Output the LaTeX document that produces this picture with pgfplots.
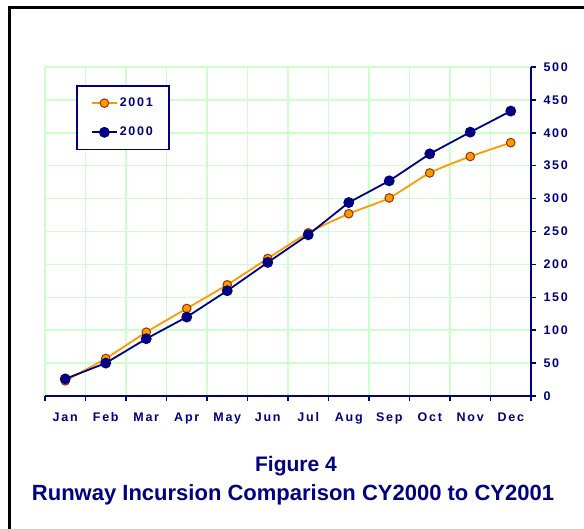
\documentclass[border=0pt]{standalone}
\usepackage{fontspec}
\setmainfont{Liberation Sans}
\newfontfamily\spaced{Liberation Sans}[LetterSpace=14]
\usepackage{pgfplots}
\pgfplotsset{compat=1.18}

\definecolor{navy}{RGB}{0,0,128}
\definecolor{orangeline}{RGB}{255,153,0}
\definecolor{brownedge}{RGB}{153,51,0}
\definecolor{gridgreen}{RGB}{204,255,204}

\begin{document}
\begin{tikzpicture}[x=1pt,y=1pt]
% origin = bottom-left corner of the plot area
\useasboundingbox (-45,-133) rectangle (539,396);
\begin{scope}
  \clip (-45,-133) rectangle (539,396);
  \draw[line width=2.5pt,black] (-35.5,-150) -- (-35.5,388.5) -- (560,388.5);
\end{scope}
\begin{axis}[
  scale only axis,width=486pt,height=329pt,
  xmin=0.5,xmax=12.5,ymin=0,ymax=500,
  axis x line*=bottom,axis y line*=right,
  axis line style={navy,line width=2pt,-},
  xtick={0.5,1.5,...,12.5},xticklabels={},
  extra x ticks={1,2,3,4,5,6,7,8,9,10,11,12},
  extra x tick labels={Jan,Feb,Mar,Apr,May,Jun,Jul,Aug,Sep,Oct,Nov,Dec},
  extra x tick style={grid=none,major tick length=0pt,
    xticklabel style={yshift=-13pt}},
  ytick={0,50,...,500},
  xmajorgrids,ymajorgrids,
  grid style={gridgreen,line width=1.5pt},
  tick align=outside,major tick length=5pt,
  tick style={navy,line width=1.5pt},
  ticklabel style={font=\spaced\bfseries\fontsize{12.5}{14}\selectfont,text=navy},
  yticklabel style={xshift=4pt},
  /pgf/number format/assume math mode=true,
  legend style={at={(axis description cs:0.064,0.945)},anchor=north west,
    draw=navy,line width=1.8pt,inner xsep=14pt,inner ysep=10pt,
    font=\spaced\bfseries\fontsize{12.5}{14}\selectfont,text=navy,
    row sep=15pt},
  legend image code/.code={%
    \draw[mark repeat=2,mark phase=2] plot coordinates {(0pt,0pt)(12.5pt,0pt)(25pt,0pt)};},
]
\addplot[orangeline,line width=1.8pt,smooth,tension=0.4,mark=*,mark size=4.3pt,
  mark options={fill=orangeline,draw=brownedge,line width=1pt}]
  coordinates {(1,23)(2,57)(3,97)(4,133)(5,169)(6,209)(7,248)(8,277)(9,301)(10,339)(11,364)(12,385)};
\addlegendentry{2001}
\addplot[navy,line width=1.8pt,mark=*,mark size=4.5pt,mark options={fill=navy,draw=navy}]
  coordinates {(1,26)(2,50)(3,87)(4,120)(5,160)(6,203)(7,245)(8,294)(9,327)(10,368)(11,401)(12,433)};
\addlegendentry{2000}
\end{axis}
\node[anchor=base,text=navy,font=\bfseries\fontsize{21}{24}\selectfont] at (251,-76) {Figure 4};
\node[anchor=base,text=navy,font=\bfseries\fontsize{22}{24}\selectfont] at (248,-105) {Runway Incursion Comparison CY2000 to CY2001};
\end{tikzpicture}
\end{document}
